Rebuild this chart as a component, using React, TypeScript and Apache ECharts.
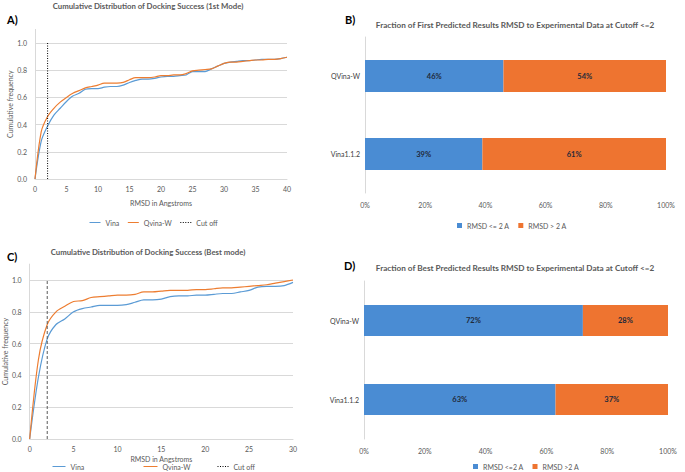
import React, { useEffect, useRef } from "react";
import * as echarts from "echarts";

// Panel A: 1st mode cumulative distribution
const rmsdA = [0,1,2,3,4,5,6,7,8,9,10,11,12,13,14,15,16,17,18,19,20,21,22,23,24,25,26,27,28,29,30,31,32,33,34,35,36,37,38,39,40];
const vinaA = [0,0.28,0.39,0.47,0.52,0.57,0.61,0.63,0.66,0.665,0.665,0.675,0.68,0.68,0.69,0.71,0.725,0.735,0.735,0.74,0.75,0.755,0.755,0.76,0.765,0.79,0.79,0.79,0.81,0.83,0.85,0.86,0.865,0.87,0.87,0.875,0.88,0.88,0.88,0.885,0.895];
const qvinaA = [0,0.35,0.46,0.52,0.565,0.6,0.63,0.65,0.67,0.68,0.69,0.705,0.705,0.705,0.71,0.73,0.745,0.745,0.745,0.75,0.76,0.76,0.765,0.765,0.775,0.795,0.8,0.805,0.81,0.83,0.85,0.86,0.86,0.865,0.87,0.875,0.875,0.88,0.88,0.885,0.895];

// Panel C: best mode cumulative distribution
const rmsdC = [0,1,2,3,4,5,6,7,8,9,10,11,12,13,14,15,16,17,18,19,20,21,22,23,24,25,26,27,28,29,30];
const vinaC = [0,0.39,0.63,0.72,0.755,0.8,0.82,0.83,0.84,0.84,0.84,0.845,0.86,0.875,0.875,0.88,0.895,0.9,0.9,0.905,0.905,0.91,0.915,0.915,0.925,0.935,0.955,0.96,0.96,0.965,0.985];
const qvinaC = [0,0.5,0.72,0.8,0.835,0.865,0.87,0.89,0.895,0.9,0.905,0.905,0.91,0.925,0.925,0.93,0.935,0.935,0.935,0.94,0.94,0.945,0.95,0.95,0.955,0.96,0.965,0.97,0.98,0.99,1.0];

const cutoff = 2;
const cutoffTop = 1.0;

// Panels B and D: stacked fractions
const programs = ["QVina-W", "Vina1.1.2"];
const firstLow = [0.46, 0.39];
const firstHigh = [0.54, 0.61];
const bestLow = [0.72, 0.63];
const bestHigh = [0.28, 0.37];

const FONT = "Lato";
const LINE_BLUE = "#5B9BD5";
const LINE_ORANGE = "#ED7D31";
const BAR_BLUE = "#4A8CD3";
const BAR_ORANGE = "#EE7430";
const GRID = "#D9D9D9";
const TXT = "#595959";

const pairs = (xs: number[], ys: number[]) => xs.map((x, i) => [x, ys[i]]);

export default function App() {
  const ref = useRef<HTMLDivElement>(null);
  useEffect(() => {
    if (!ref.current) return;
    const chart = echarts.init(ref.current, null, { renderer: "svg" });

    const lineYAxis = (gridIndex: number, gap: number) => ({
      type: "value",
      gridIndex,
      min: 0,
      max: 1.1,
      interval: 0.2,
      name: "Cumulative frequency",
      nameLocation: "middle",
      nameGap: gap,
      nameTextStyle: { fontFamily: FONT, fontSize: 7, color: TXT },
      axisLine: { show: true, lineStyle: { color: GRID } },
      axisTick: { show: false },
      axisLabel: {
        fontFamily: FONT, fontSize: 7, color: TXT, margin: 8,
        showMaxLabel: false,
        formatter: (v: number) => v.toFixed(1),
      },
      splitLine: { show: true, showMaxLine: false, lineStyle: { color: GRID, width: 1 } },
    });
    const lineXAxis = (gridIndex: number, max: number, gap: number) => ({
      type: "value",
      gridIndex,
      min: 0,
      max,
      interval: 5,
      name: "RMSD in Angstroms",
      nameLocation: "middle",
      nameGap: gap,
      nameTextStyle: { fontFamily: FONT, fontSize: 7, color: TXT },
      axisLine: { show: true, lineStyle: { color: GRID } },
      axisTick: { show: false },
      axisLabel: { fontFamily: FONT, fontSize: 7, color: TXT, margin: 6 },
      splitLine: { show: false },
    });
    const barXAxis = (gridIndex: number) => ({
      type: "value",
      gridIndex,
      min: 0,
      max: 1,
      interval: 0.2,
      axisLine: { show: false },
      axisTick: { show: false },
      splitLine: { show: false },
      axisLabel: {
        fontFamily: FONT, fontSize: 7, color: TXT, margin: 8,
        formatter: (v: number) => Math.round(v * 100) + "%",
      },
    });
    const barYAxis = (gridIndex: number) => ({
      type: "category",
      gridIndex,
      data: programs,
      inverse: true,
      axisLine: { show: true, lineStyle: { color: GRID } },
      axisTick: { show: false },
      axisLabel: { fontFamily: FONT, fontSize: 7, color: "#404040", margin: 5 },
    });

    const lineSeries = (name: string, xi: number, xs: number[], ys: number[], color: string) => ({
      type: "line",
      name,
      xAxisIndex: xi,
      yAxisIndex: xi,
      data: pairs(xs, ys),
      smooth: 0.3,
      symbol: "none",
      lineStyle: { color, width: 1.2 },
      itemStyle: { color },
    });
    const cutSeries = (xi: number, type: any, color: string) => ({
      type: "line",
      name: "Cut off",
      xAxisIndex: xi,
      yAxisIndex: xi,
      data: [[cutoff, 0], [cutoff, cutoffTop]],
      symbol: "none",
      lineStyle: { color, width: 1, type },
      itemStyle: { color },
    });
    const barLabel = {
      show: true,
      position: "inside",
      fontFamily: FONT,
      fontSize: 7.5,
      fontWeight: "bold",
      color: "#1F2A3A",
      formatter: (p: any) => Math.round(p.value * 100) + "%",
    };
    const barSeries = (name: string, idx: number, stack: string, vals: number[], color: string, bw: number) => ({
      type: "bar",
      name,
      xAxisIndex: idx,
      yAxisIndex: idx,
      stack,
      data: vals,
      barWidth: bw,
      itemStyle: { color },
      label: barLabel,
    });

    const legendText = { fontFamily: FONT, fontSize: 7, color: TXT };
    const lineLegend = {
      padding: 0, itemHeight: 6, textStyle: legendText, selectedMode: false,
      itemStyle: { opacity: 0 }, lineStyle: { width: 1 },
    };
    const titleStyle = (size: number) => ({ fontFamily: FONT, fontSize: size, fontWeight: "bold", color: TXT });
    const letterStyle = { fontFamily: FONT, fontSize: 11, fontWeight: "bold", color: "#000" };

    chart.setOption({
      animation: false,
      backgroundColor: "#ffffff",
      title: [
        { text: "Cumulative Distribution of Docking Success (1st Mode)", left: 148, top: 2, padding: 0, textAlign: "center",
          textStyle: titleStyle(7.8) },
        { text: "Fraction of First Predicted Results RMSD to Experimental Data at Cutoff <=2", left: 515, top: 21, padding: 0, textAlign: "center",
          textStyle: titleStyle(8.2) },
        { text: "Cumulative Distribution of Docking Success (Best mode)", left: 148, top: 248, padding: 0, textAlign: "center",
          textStyle: titleStyle(7.8) },
        { text: "Fraction of Best Predicted Results RMSD to Experimental Data at Cutoff <=2", left: 515, top: 264, padding: 0, textAlign: "center",
          textStyle: titleStyle(8.2) },
        { text: "A)", left: 7, top: 14, padding: 0, textStyle: letterStyle },
        { text: "B)", left: 345, top: 14, padding: 0, textStyle: letterStyle },
        { text: "C)", left: 7, top: 251, padding: 0, textStyle: letterStyle },
        { text: "D)", left: 344, top: 260, padding: 0, textStyle: letterStyle },
      ],
      grid: [
        { left: 35, top: 29.4, width: 252, height: 149.6 },
        { left: 25, top: 264.1, width: 268, height: 174.9 },
        { left: 365, top: 37, width: 301, height: 156 },
        { left: 364, top: 281, width: 304, height: 158 },
      ],
      xAxis: [lineXAxis(0, 40, 20), lineXAxis(1, 30, 16), barXAxis(2), barXAxis(3)],
      yAxis: [lineYAxis(0, 16), lineYAxis(1, 21), barYAxis(2), barYAxis(3)],
      legend: [
        { ...lineLegend, data: ["Vina", "Qvina-W", "Cut off"], left: 89, top: 219, itemWidth: 11, itemGap: 8 },
        { ...lineLegend, data: ["Vina"], left: 52, top: 463, itemWidth: 13 },
        { ...lineLegend, data: ["Qvina-W"], left: 143, top: 463, itemWidth: 14 },
        { ...lineLegend, data: ["Cut off"], left: 217, top: 463, itemWidth: 11 },
        { data: ["RMSD <= 2 A", "RMSD > 2 A"], left: 457, top: 222, padding: 0, icon: "rect", itemWidth: 5, itemHeight: 5, itemGap: 9,
          textStyle: legendText, selectedMode: false },
        { data: ["RMSD <=2 A", "RMSD >2 A"], left: 473, top: 463, padding: 0, icon: "rect", itemWidth: 5, itemHeight: 5, itemGap: 9,
          textStyle: legendText, selectedMode: false },
      ],
      series: [
        lineSeries("Vina", 0, rmsdA, vinaA, LINE_BLUE),
        lineSeries("Qvina-W", 0, rmsdA, qvinaA, LINE_ORANGE),
        cutSeries(0, [1, 1.5], "#000000"),
        lineSeries("Vina", 1, rmsdC, vinaC, LINE_BLUE),
        lineSeries("Qvina-W", 1, rmsdC, qvinaC, LINE_ORANGE),
        cutSeries(1, [3, 2], "#595959"),
        barSeries("RMSD <= 2 A", 2, "first", firstLow, BAR_BLUE, 32),
        barSeries("RMSD > 2 A", 2, "first", firstHigh, BAR_ORANGE, 32),
        barSeries("RMSD <=2 A", 3, "best", bestLow, BAR_BLUE, 31),
        barSeries("RMSD >2 A", 3, "best", bestHigh, BAR_ORANGE, 31),
      ],
    });
    return () => chart.dispose();
  }, []);
  return (
    <div
      ref={ref}
      style={{ position: "fixed", left: 0, top: 0, width: 685, height: 472 }}
    />
  );
}
